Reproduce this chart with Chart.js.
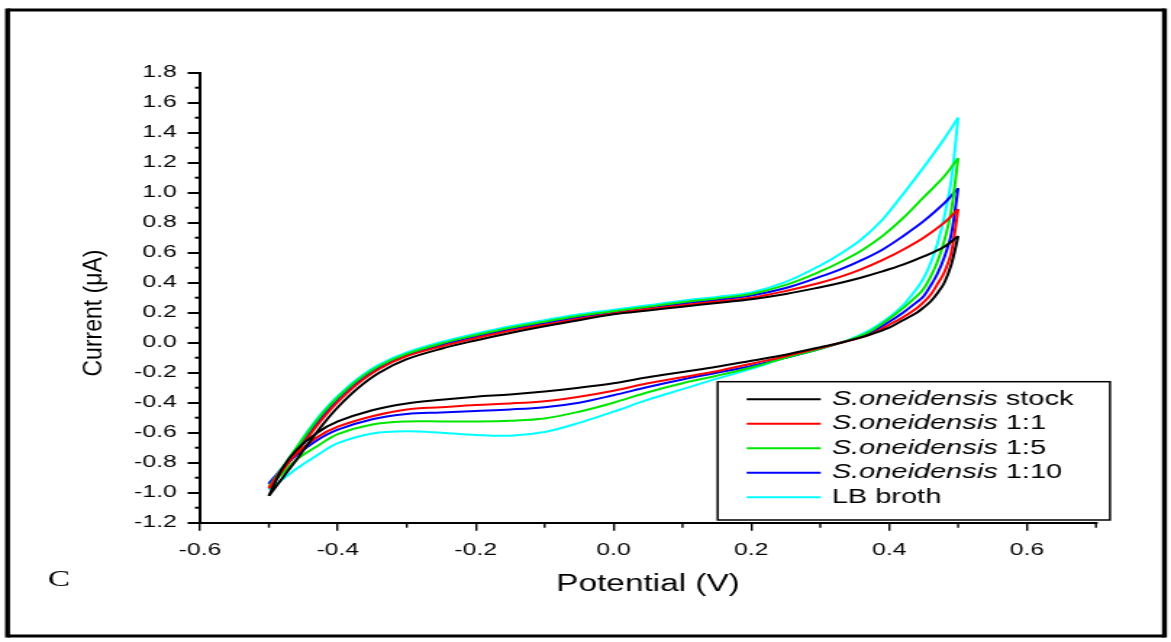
<!DOCTYPE html>
<html>
<head>
<meta charset="utf-8">
<script src="https://cdn.jsdelivr.net/npm/chart.js@4.4.1/dist/chart.umd.min.js"></script>
<style>
  html, body { margin: 0; padding: 0; background: #fff; overflow: hidden; }
  #wrap { width: 808px; height: 642px; transform: scaleX(1.449257); transform-origin: 0 0; }
  canvas { display: block; }
</style>
</head>
<body>
<div id="wrap"><canvas id="cv" width="808" height="642"></canvas></div>
<script>
// potentials (V) for the forward and the reverse sweep
var potentialFwd = [-0.5, -0.48, -0.46, -0.44, -0.42, -0.4, -0.37, -0.34, -0.3, -0.25, -0.2, -0.15, -0.1, -0.05, 0, 0.05, 0.1, 0.15, 0.2, 0.25, 0.3, 0.33, 0.36, 0.39, 0.42, 0.45, 0.48, 0.5];
var potentialRev = [0.5, 0.49, 0.48, 0.47, 0.46, 0.45, 0.44, 0.42, 0.4, 0.37, 0.33, 0.3, 0.25, 0.2, 0.15, 0.1, 0.05, 0, -0.05, -0.1, -0.15, -0.2, -0.25, -0.3, -0.35, -0.4, -0.43, -0.46, -0.48, -0.5];

// currents (uA)
var stockFwd   = [-1.02, -0.90, -0.78, -0.655, -0.535, -0.43, -0.30, -0.20, -0.11, -0.04, 0.015, 0.065, 0.11, 0.15, 0.19, 0.215, 0.24, 0.265, 0.29, 0.325, 0.37, 0.40, 0.435, 0.475, 0.52, 0.575, 0.64, 0.71];
var ratio1Fwd  = [-0.97, -0.85, -0.73, -0.61, -0.495, -0.395, -0.27, -0.175, -0.09, -0.025, 0.03, 0.08, 0.12, 0.16, 0.195, 0.225, 0.25, 0.275, 0.30, 0.345, 0.40, 0.44, 0.49, 0.55, 0.62, 0.70, 0.80, 0.89];
var ratio5Fwd  = [-0.96, -0.83, -0.70, -0.575, -0.46, -0.365, -0.245, -0.155, -0.075, -0.005, 0.05, 0.10, 0.14, 0.18, 0.21, 0.24, 0.27, 0.295, 0.325, 0.385, 0.475, 0.54, 0.615, 0.71, 0.83, 0.97, 1.11, 1.23];
var ratio10Fwd = [-0.94, -0.83, -0.71, -0.59, -0.475, -0.375, -0.255, -0.165, -0.085, -0.015, 0.04, 0.09, 0.13, 0.17, 0.20, 0.23, 0.26, 0.285, 0.315, 0.365, 0.44, 0.49, 0.55, 0.62, 0.71, 0.81, 0.93, 1.03];
var brothFwd   = [-0.98, -0.84, -0.70, -0.565, -0.45, -0.355, -0.235, -0.145, -0.065, 0.005, 0.06, 0.11, 0.15, 0.19, 0.22, 0.25, 0.28, 0.305, 0.335, 0.405, 0.515, 0.595, 0.69, 0.82, 0.99, 1.17, 1.36, 1.50];

var stockRev   = [0.71, 0.52, 0.40, 0.33, 0.275, 0.235, 0.20, 0.15, 0.10, 0.05, 0.0, -0.03, -0.08, -0.12, -0.16, -0.195, -0.23, -0.27, -0.30, -0.325, -0.345, -0.36, -0.38, -0.405, -0.45, -0.525, -0.60, -0.715, -0.835, -1.02];
var ratio1Rev  = [0.89, 0.60, 0.47, 0.39, 0.32, 0.27, 0.23, 0.17, 0.12, 0.05, 0.0, -0.035, -0.09, -0.14, -0.19, -0.23, -0.27, -0.32, -0.36, -0.39, -0.405, -0.415, -0.43, -0.445, -0.49, -0.56, -0.63, -0.74, -0.84, -0.97];
var ratio5Rev  = [1.23, 0.88, 0.68, 0.54, 0.44, 0.36, 0.31, 0.23, 0.16, 0.07, 0.0, -0.04, -0.10, -0.165, -0.22, -0.27, -0.33, -0.40, -0.46, -0.505, -0.52, -0.525, -0.525, -0.525, -0.545, -0.61, -0.69, -0.78, -0.87, -0.96];
var ratio10Rev = [1.03, 0.72, 0.57, 0.46, 0.38, 0.31, 0.27, 0.20, 0.14, 0.06, 0.0, -0.04, -0.10, -0.155, -0.20, -0.245, -0.295, -0.35, -0.40, -0.43, -0.445, -0.455, -0.465, -0.475, -0.51, -0.58, -0.65, -0.75, -0.84, -0.94];
var brothRev   = [1.50, 1.08, 0.84, 0.66, 0.53, 0.43, 0.36, 0.25, 0.17, 0.08, 0.0, -0.04, -0.10, -0.175, -0.24, -0.31, -0.38, -0.46, -0.535, -0.595, -0.62, -0.615, -0.60, -0.59, -0.605, -0.67, -0.75, -0.84, -0.91, -0.98];

var seriesNames = ["S.oneidensis stock", "S.oneidensis 1:1", "S.oneidensis 1:5", "S.oneidensis 1:10", "LB broth"];
var forwardCurrents = [stockFwd, ratio1Fwd, ratio5Fwd, ratio10Fwd, brothFwd];
var reverseCurrents = [stockRev, ratio1Rev, ratio5Rev, ratio10Rev, brothRev];
var lineColors = ["#000000", "#ff0000", "#00e600", "#0000ff", "#00ffff"];

var xTickValues = [-0.6, -0.4, -0.2, 0, 0.2, 0.4, 0.6];
var yTickValues = [-1.2, -1.0, -0.8, -0.6, -0.4, -0.2, 0, 0.2, 0.4, 0.6, 0.8, 1.0, 1.2, 1.4, 1.6, 1.8];
var minorTicksX = [-0.5, -0.3, -0.1, 0.1, 0.3, 0.5, 0.7];
var minorTicksY = [-1.1, -0.9, -0.7, -0.5, -0.3, -0.1, 0.1, 0.3, 0.5, 0.7, 0.9, 1.1, 1.3, 1.5, 1.7];

var SX = 1.449257; // horizontal stretch of the whole picture
var FONT = "'Liberation Sans', Arial, sans-serif";

function toPoints(xs, ys) {
  return xs.map(function (x, i) { return {x: x, y: ys[i]}; });
}

var datasets = [];
seriesNames.forEach(function (name, i) {
  [toPoints(potentialFwd, forwardCurrents[i]), toPoints(potentialRev, reverseCurrents[i])].forEach(function (pts) {
    datasets.push({
      label: name,
      data: pts,
      showLine: true,
      borderColor: lineColors[i],
      backgroundColor: lineColors[i],
      borderWidth: 2,
      pointRadius: 0,
      tension: 0.35,
      fill: false
    });
  });
});

var extras = {
  id: "extras",
  afterDraw: function (chart) {
    var ctx = chart.ctx;
    var xs = chart.scales.x, ys = chart.scales.y;
    var area = chart.chartArea;
    ctx.save();
    ctx.strokeStyle = "#000";

    // minor ticks
    ctx.lineWidth = 1.4;
    minorTicksX.forEach(function (v) {
      var px = xs.getPixelForValue(v);
      ctx.beginPath(); ctx.moveTo(px, area.bottom); ctx.lineTo(px, area.bottom + 5); ctx.stroke();
    });
    ctx.lineWidth = 2;
    minorTicksY.forEach(function (v) {
      var py = ys.getPixelForValue(v);
      ctx.beginPath(); ctx.moveTo(area.left, py); ctx.lineTo(area.left - 3.5, py); ctx.stroke();
    });

    // legend box
    var lx = 495.2, ly = 381.7, lw = 270.7, lh = 138.3;
    ctx.fillStyle = "#fff";
    ctx.fillRect(lx, ly, lw, lh);
    ctx.lineWidth = 1.5;
    ctx.strokeRect(lx, ly, lw, lh);
    ctx.textBaseline = "middle";
    ctx.textAlign = "left";
    seriesNames.forEach(function (name, i) {
      var y = 399.3 + i * 24.5;
      ctx.strokeStyle = lineColors[i];
      ctx.lineWidth = 2;
      ctx.beginPath(); ctx.moveTo(515.2, y); ctx.lineTo(566.3, y); ctx.stroke();
      ctx.fillStyle = "#000";
      var sp = name.indexOf(" ");
      var first = name.slice(0, sp), rest = name.slice(sp);
      var x = 573.9;
      if (first.indexOf(".") > 0) {
        ctx.font = "italic 20px " + FONT;
        ctx.fillText(first, x, y);
        x += ctx.measureText(first).width;
        ctx.font = "20px " + FONT;
        ctx.fillText(rest, x, y);
      } else {
        ctx.font = "20px " + FONT;
        ctx.fillText(name, x, y);
      }
    });

    // y axis title
    ctx.fillStyle = "#000";
    ctx.save();
    ctx.translate(64.5, 313);
    ctx.scale(1 / 1.2, 1);
    ctx.rotate(-Math.PI / 2);
    ctx.textAlign = "center";
    ctx.textBaseline = "middle";
    ctx.font = "23px " + FONT;
    ctx.fillText("Current (\u03bcA)", 0, 0);
    ctx.restore();

    // panel letter
    ctx.font = "23px 'Liberation Serif', 'Times New Roman', serif";
    ctx.textAlign = "left";
    ctx.textBaseline = "alphabetic";
    ctx.fillText("C", 33, 586);

    // outer frame
    ctx.strokeStyle = "#000";
    ctx.lineWidth = 3.4;
    ctx.beginPath(); ctx.moveTo(5.2, 8.5); ctx.lineTo(5.2, 637.5); ctx.stroke();
    ctx.beginPath(); ctx.moveTo(803.5, 8.5); ctx.lineTo(803.5, 637.5); ctx.stroke();
    ctx.lineWidth = 3;
    ctx.beginPath(); ctx.moveTo(5.2, 10); ctx.lineTo(803.5, 10); ctx.stroke();
    ctx.beginPath(); ctx.moveTo(5.2, 636); ctx.lineTo(803.5, 636); ctx.stroke();
    ctx.restore();
  }
};

function fixedTicks(values) {
  return function (scale) {
    scale.ticks = values.map(function (v) { return {value: v}; });
  };
}

var chart = new Chart("cv", {
  type: "scatter",
  data: {datasets: datasets},
  options: {
    responsive: false,
    animation: false,
    devicePixelRatio: 1,
    layout: {padding: {left: 0, right: 51.8, top: 72.7, bottom: 0}},
    plugins: {legend: {display: false}, tooltip: {enabled: false}},
    scales: {
      x: {
        type: "linear",
        min: -0.6,
        max: 0.7,
        afterBuildTicks: fixedTicks(xTickValues),
        afterFit: function (s) { s.height = 119.3; },
        border: {color: "#000", width: 2},
        grid: {drawOnChartArea: false, drawTicks: true, tickLength: 8, color: "#000", lineWidth: 1.4},
        ticks: {
          color: "#000", padding: 9, maxRotation: 0, autoSkip: false,
          font: {family: FONT, size: 17},
          callback: function (v) { return v.toFixed(1); }
        },
        title: {display: true, text: "Potential (V)", color: "#000", font: {family: FONT, size: 23}, padding: {top: 0, bottom: 44}}
      },
      y: {
        type: "linear",
        min: -1.2,
        max: 1.8,
        afterBuildTicks: fixedTicks(yTickValues),
        afterFit: function (s) { s.width = 138; },
        border: {color: "#000", width: 2},
        grid: {drawOnChartArea: false, drawTicks: true, tickLength: 8.5, color: "#000", lineWidth: 2},
        ticks: {
          color: "#000", padding: 7.6, autoSkip: false,
          font: {family: FONT, size: 17},
          callback: function (v) { return v.toFixed(1); }
        }
      }
    }
  },
  plugins: [extras]
});
</script>
</body>
</html>
